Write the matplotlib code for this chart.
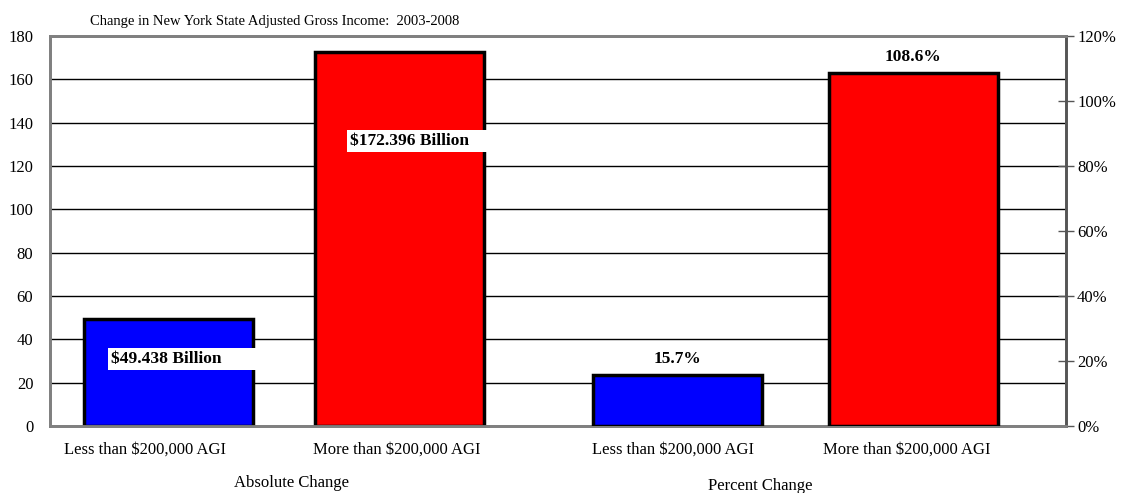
import matplotlib
matplotlib.use('Agg')
import matplotlib.pyplot as plt
import numpy as np

matplotlib.rc('font', family='Liberation Serif', size=12)

categories = ['Less than $200,000 AGI', 'More than $200,000 AGI',
              'Less than $200,000 AGI', 'More than $200,000 AGI']
absolute_change = [49.438, 172.396]   # billions of dollars
percent_change = [15.7, 108.6]        # percent
bar_colors = ['#0000ff', '#ff0000']
group_labels = ['Absolute Change', 'Percent Change']
abs_labels = ['$49.438 Billion', '$172.396 Billion']
pct_labels = ['15.7%', '108.6%']

fig = plt.figure(figsize=(11.22, 4.93), dpi=100)
ax = fig.add_axes([50 / 1122, 1 - 426 / 493, 1016 / 1122, 390 / 493])
ax2 = ax.twinx()

pos = np.array([0, 1, 2.2, 3.215])
width = 0.73
label_shift = np.array([-0.1, -0.013, -0.02, -0.026])  # original labels sit a bit left of bars

# left axis: billions, right axis: percent (120% lines up with 180)
ax.bar(pos[:2], absolute_change, width=width, color=bar_colors,
       edgecolor='black', linewidth=2.5, zorder=3)
ax2.bar(pos[2:], percent_change, width=width, color=bar_colors,
        edgecolor='black', linewidth=2.5, zorder=3)

ax.set_ylim(0, 180)
ax2.set_ylim(0, 120)
ax.set_xlim(-0.51, 3.875)
ax.set_yticks(np.arange(0, 181, 20))
ax2.set_yticks(np.arange(0, 121, 20))
ax2.set_yticklabels([f'{v}%' for v in range(0, 121, 20)])
ax.grid(axis='y', color='black', linewidth=1, zorder=0)
ax.set_axisbelow(True)

ax.tick_params(axis='y', length=0, pad=12)
ax2.tick_params(axis='y', direction='inout', length=12, width=1, colors='#555555',
                labelcolor='black', pad=2)
ax.set_xticks(pos + label_shift)
ax.set_xticklabels(categories)
ax.tick_params(axis='x', length=0, pad=11)

for a in (ax, ax2):
    for s in a.spines.values():
        s.set_color('#808080')
        s.set_linewidth(2)
ax2.spines['right'].set_color('#555555')

# value labels (white boxes stretch past the text, as in the original)
ax.text(pos[0] - 0.246, 31, abs_labels[0] + ' ' * 9, fontweight='bold', fontsize=12.5,
        va='center', ha='left', zorder=5,
        bbox=dict(facecolor='white', edgecolor='none', pad=2))
ax.text(pos[1] - 0.216, 131.5, abs_labels[1] + ' ' * 10, fontweight='bold', fontsize=12.5,
        va='center', ha='left', zorder=5,
        bbox=dict(facecolor='white', edgecolor='none', pad=2))
for p, v, lab in zip(pos[2:], percent_change, pct_labels):
    ax2.text(p, v + 5.0, lab, fontweight='bold', fontsize=12.5, ha='center',
             va='center', zorder=5)

fig.text(90 / 1122, 1 - 22 / 493, 'Change in New York State Adjusted Gross Income:  2003-2008',
         fontsize=10.5, ha='left', va='center')
fig.text(292 / 1122, 1 - 483 / 493, group_labels[0], ha='center', va='center')
fig.text(760 / 1122, 1 - 486 / 493, group_labels[1], ha='center', va='center')

fig.savefig('out.png', dpi=100)
